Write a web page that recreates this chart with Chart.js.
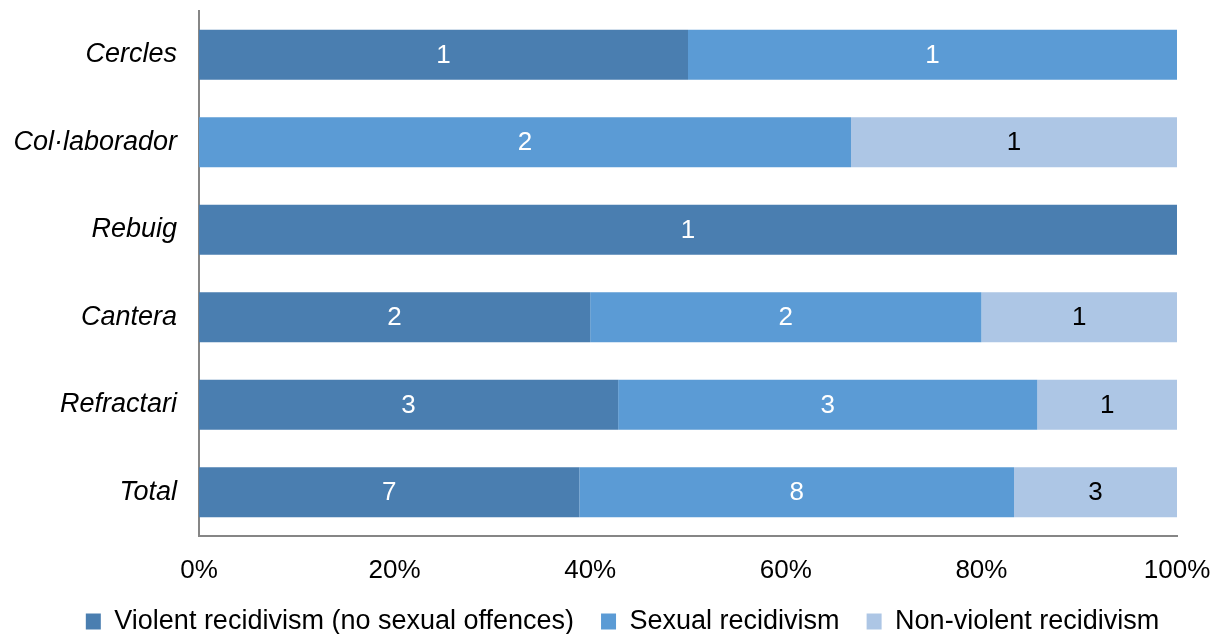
<!DOCTYPE html>
<html>
<head>
<meta charset="utf-8">
<script src="https://cdn.jsdelivr.net/npm/chart.js@4/dist/chart.umd.min.js"></script>
<style>
html,body{margin:0;padding:0;background:#fff;overflow:hidden;}
#wrap{width:1215px;height:634px;position:relative;overflow:hidden;}
</style>
</head>
<body>
<div id="wrap"><canvas id="c" width="1215" height="645"></canvas></div>
<script>
const categories = ["Cercles", "Col·laborador", "Rebuig", "Cantera", "Refractari", "Total"];
const seriesNames = ["Violent recidivism (no sexual offences)", "Sexual recidivism", "Non-violent recidivism"];
const violent = [1, 0, 1, 2, 3, 7];
const sexual = [1, 2, 0, 2, 3, 8];
const nonViolent = [0, 1, 0, 1, 1, 3];
const tickLabels = ["0%", "20%", "40%", "60%", "80%", "100%"];

const counts = [violent, sexual, nonViolent];
const totals = categories.map((_, i) => violent[i] + sexual[i] + nonViolent[i]);
const pct = counts.map(arr => arr.map((v, i) => v / totals[i] * 100));

const colors = ["#4A7EB0", "#5B9BD5", "#ADC6E5"];
const labelColors = ["#FFFFFF", "#FFFFFF", "#000000"];
const FONT = "'Liberation Sans', Arial, sans-serif";
const FS = 26;
const FS_L = 27;

const valueLabels = {
  id: 'valueLabels',
  afterDatasetsDraw(chart) {
    const ctx = chart.ctx;
    ctx.save();
    ctx.font = FS + "px " + FONT;
    ctx.textAlign = 'center';
    ctx.textBaseline = 'middle';
    chart.data.datasets.forEach((ds, di) => {
      const meta = chart.getDatasetMeta(di);
      meta.data.forEach((bar, i) => {
        const c = counts[di][i];
        if (!c) return;
        const x = (bar.x + bar.base) / 2;
        ctx.fillStyle = labelColors[di];
        ctx.fillText(String(c), x, bar.y + 1);
      });
    });
    ctx.restore();
  }
};

const shiftLegend = {
  id: 'shiftLegend',
  afterLayout(chart) {
    const lg = chart.legend;
    if (lg) { lg.left += 34; lg.right += 34; }
  }
};

new Chart(document.getElementById('c'), {
  type: 'bar',
  data: {
    labels: categories,
    datasets: seriesNames.map((n, k) => ({
      label: n,
      data: pct[k],
      backgroundColor: colors[k],
      borderWidth: 0,
      barPercentage: 50 / 87.5,
      categoryPercentage: 1
    }))
  },
  options: {
    indexAxis: 'y',
    responsive: false,
    animation: false,
    devicePixelRatio: 1,
    layout: { padding: { top: 11, right: 38, left: 0, bottom: 0 } },
    plugins: {
      legend: {
        position: 'bottom',
        labels: {
          font: { size: FS_L, family: FONT },
          color: '#000',
          boxWidth: 15,
          boxHeight: 16,
          padding: 27
        }
      },
      tooltip: { enabled: false }
    },
    scales: {
      x: {
        stacked: true,
        min: 0,
        max: 100,
        grid: { display: false, drawTicks: false },
        border: { display: true, color: '#868686', width: 2 },
        ticks: {
          stepSize: 20,
          padding: 19,
          color: '#000',
          font: { size: FS, family: FONT },
          callback: (v, i) => tickLabels[i]
        },
        afterFit: s => { s.height = 45; s.paddingLeft = 0; s.paddingRight = 0; }
      },
      y: {
        stacked: true,
        grid: { display: false, drawTicks: false },
        border: { display: true, color: '#868686', width: 2 },
        ticks: {
          padding: 22,
          color: '#000',
          font: { size: FS_L, family: FONT, style: 'italic' }
        },
        afterFit: s => { s.width = 199; s.paddingTop = 0; s.paddingBottom = 0; }
      }
    }
  },
  plugins: [valueLabels, shiftLegend]
});
</script>
</body>
</html>
